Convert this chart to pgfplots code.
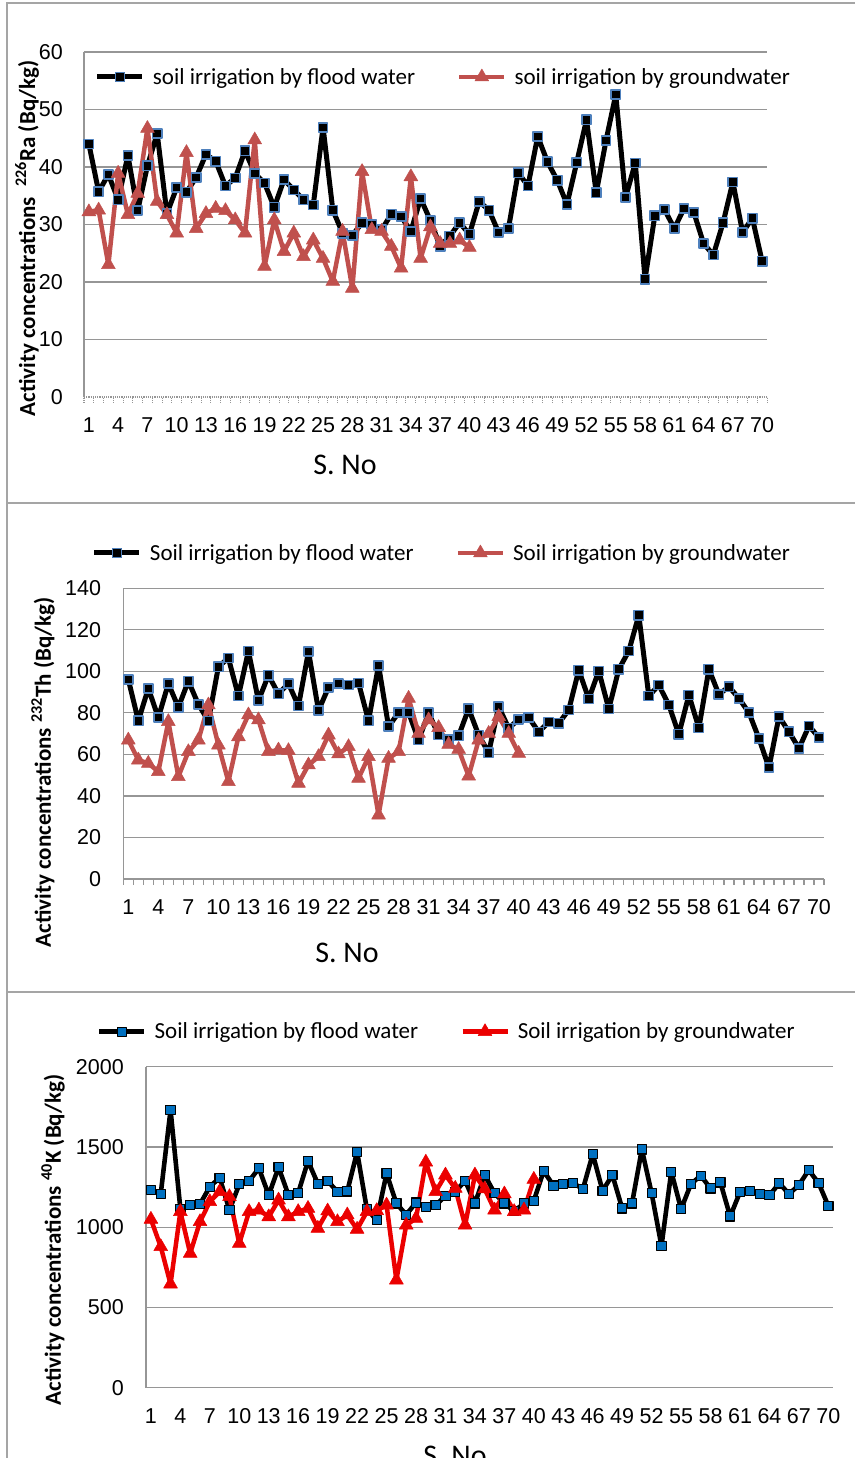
\documentclass[border=0pt]{standalone}
\usepackage{pgfplots}
\pgfplotsset{compat=1.18}
\usepackage{fontspec}
\setmainfont{Liberation Sans}
\newfontfamily\calibri{Carlito}
\definecolor{markblue}{RGB}{79,129,189}
\definecolor{redc}{RGB}{192,80,77}
\definecolor{blue3}{RGB}{0,112,192}
\definecolor{red3}{RGB}{235,0,0}
\definecolor{gridgray}{RGB}{150,150,150}
\definecolor{framegray}{RGB}{165,165,165}
\pgfplotsset{
  common/.style={
    scale only axis, xmin=0.5, xmax=70.5, ymin=0, clip=false,
    axis x line*=bottom, axis y line*=left,
    ymajorgrids, grid style={draw=gridgray, line width=1.2pt},
    axis line style={draw=gridgray, line width=1.2pt},
    ytick style={draw=none},
    tick label style={font=\fontsize{21.5}{25}\selectfont},
    /pgf/number format/assume math mode=true,
    /pgf/number format/1000 sep={},
    xticklabel style={anchor=base, inner sep=0pt, yshift=-36pt},
    tick align=outside,
    legend columns=2,
    legend cell align=left,
    legend style={draw=none, fill=none, inner sep=0pt, outer sep=0pt, anchor=west,
      font=\calibri\fontsize{23}{27}\selectfont, column sep=8pt,
      nodes={inner sep=0pt}},
    /tikz/every even column/.append style={column sep=42pt},
    legend image code/.code={\draw[mark repeat=2,mark phase=2,#1] plot coordinates {(0pt,0pt) (22.5pt,0pt) (45pt,0pt)};},
    extra x ticks={1,4,...,70},
    extra x tick labels={1,4,7,10,13,16,19,22,25,28,31,34,37,40,43,46,49,52,55,58,61,64,67,70},
    extra x tick style={major tick length=0pt, grid=none},
  },
  flood1/.style={draw=black, line width=5pt, line join=round, mark=square*, mark size=4.6pt,
    mark options={fill=black, draw=markblue, line width=1.6pt, solid}},
  ground1/.style={draw=redc, line width=4.5pt, line join=round, mark=triangle*, mark size=8pt,
    mark options={fill=redc, draw=redc, line width=0.5pt, solid}},
  flood3/.style={draw=black, line width=4.6pt, line join=round, mark=square*, mark size=4.6pt,
    mark options={fill=blue3, draw=black, line width=1.1pt, solid}},
  ground3/.style={draw=red3, line width=4.5pt, line join=round, mark=triangle*, mark size=8pt,
    mark options={fill=red3, draw=red3, line width=0.5pt, solid}},
}
\begin{document}
\begin{tikzpicture}
\path[use as bounding box] (0pt,0pt) rectangle (854pt,1458pt);
% frames
\draw[framegray, line width=1.5pt] (870pt,1455pt) -- (7pt,1455pt) -- (7pt,-10pt);
\draw[framegray, line width=1.5pt] (7pt,955pt) -- (870pt,955pt);
\draw[framegray, line width=2pt] (7pt,466pt) -- (870pt,466pt);

% ---------------- Panel 1: Ra-226
\begin{axis}[common, at={(84pt,1061pt)}, anchor=south west,
  width=683pt, height=345pt, ymax=60,
  ytick={10,20,...,60}, extra y ticks={0}, extra y tick style={grid=none},
  yticklabel style={anchor=east, inner sep=0pt, xshift=-15pt},
  xtick={0.5,1.5,...,70.5}, xticklabels={}, major tick length=6pt,
  xtick style={draw=gridgray, line width=1pt, densely dotted},
  x axis line style={densely dotted},
  legend style={at={(0.0161,0.9275)}},
]
\addplot[flood1] coordinates {
(1,44.0) (2,35.7) (3,38.7) (4,34.3) (5,42.0) (6,32.4) (7,40.2) (8,45.8) (9,31.9) (10,36.4)
(11,35.6) (12,38.2) (13,42.2) (14,41.0) (15,36.7) (16,38.1) (17,42.8) (18,38.9) (19,37.2) (20,33.0)
(21,37.8) (22,36.0) (23,34.3) (24,33.4) (25,46.9) (26,32.5) (27,28.5) (28,28.1) (29,30.3) (30,30.0)
(31,29.1) (32,31.8) (33,31.4) (34,28.8) (35,34.5) (36,30.7) (37,26.2) (38,28.0) (39,30.3) (40,28.3)
(41,34.0) (42,32.5) (43,28.6) (44,29.3) (45,39.0) (46,36.7) (47,45.3) (48,40.9) (49,37.7) (50,33.5)
(51,40.8) (52,48.2) (53,35.5) (54,44.6) (55,52.6) (56,34.7) (57,40.7) (58,20.5) (59,31.5) (60,32.6)
(61,29.3) (62,32.8) (63,32.1) (64,26.7) (65,24.7) (66,30.3) (67,37.4) (68,28.6) (69,31.1) (70,23.6)};
\addlegendentry{soil irrigation by flood water}
\addplot[ground1] coordinates {
(1,32.2) (2,32.5) (3,23.0) (4,38.9) (5,31.7) (6,35.4) (7,46.7) (8,34.0) (9,31.7) (10,28.5)
(11,42.5) (12,29.3) (13,31.9) (14,32.8) (15,32.4) (16,30.8) (17,28.5) (18,44.7) (19,22.7) (20,30.8)
(21,25.3) (22,28.5) (23,24.4) (24,27.3) (25,24.1) (26,20.1) (27,28.8) (28,18.9) (29,39.2) (30,29.1)
(31,28.8) (32,26.2) (33,22.4) (34,38.3) (35,24.1) (36,29.6) (37,26.7) (38,26.7) (39,27.3) (40,26.0)};
\addlegendentry{soil irrigation by groundwater}
\end{axis}

% ---------------- Panel 2: Th-232
\begin{axis}[common, at={(123.3pt,579pt)}, anchor=south west,
  width=700.7pt, height=290.7pt, ymax=140,
  ytick={0,20,...,140},
  yticklabel style={anchor=east, inner sep=0pt, xshift=-16pt},
  xtick={0.5,1.5,...,70.5}, xticklabels={}, major tick length=6pt,
  xtick style={draw=gridgray, line width=1.2pt},
  legend style={at={(-0.0447,1.1214)}},
]
\addplot[flood1] coordinates {
(1,96.1) (2,76.2) (3,91.8) (4,77.7) (5,94.1) (6,82.7) (7,95.3) (8,84.1) (9,76.1) (10,102.2)
(11,106.4) (12,88.1) (13,109.8) (14,85.9) (15,98.1) (16,89.2) (17,94.1) (18,83.3) (19,109.6) (20,81.1)
(21,92.3) (22,94.1) (23,93.4) (24,94.4) (25,76.2) (26,102.9) (27,73.4) (28,80.1) (29,80.2) (30,66.9)
(31,80.0) (32,69.3) (33,67.0) (34,69.0) (35,82.0) (36,69.3) (37,60.8) (38,83.0) (39,72.6) (40,76.9)
(41,77.8) (42,70.8) (43,75.6) (44,75.0) (45,81.4) (46,100.6) (47,86.7) (48,100.2) (49,81.9) (50,101.0)
(51,109.8) (52,127.0) (53,88.1) (54,93.4) (55,83.8) (56,69.7) (57,88.6) (58,72.7) (59,101.0) (60,88.9)
(61,92.6) (62,87.0) (63,80.1) (64,67.7) (65,53.6) (66,78.2) (67,70.9) (68,62.9) (69,73.7) (70,68.1)};
\addlegendentry{Soil irrigation by flood water}
\addplot[ground1] coordinates {
(1,66.9) (2,57.3) (3,55.7) (4,51.7) (5,75.8) (6,49.3) (7,61.3) (8,66.9) (9,83.8) (10,64.5)
(11,46.9) (12,68.5) (13,79.0) (14,76.6) (15,61.3) (16,62.1) (17,61.8) (18,46.1) (19,54.9) (20,58.9)
(21,69.3) (22,60.2) (23,63.7) (24,48.5) (25,58.9) (26,30.8) (27,58.1) (28,61.3) (29,87.0) (30,70.1)
(31,76.6) (32,72.9) (33,64.8) (34,62.4) (35,49.6) (36,66.9) (37,70.1) (38,78.2) (39,70.1) (40,60.5)};
\addlegendentry{Soil irrigation by groundwater}
\end{axis}

% ---------------- Panel 3: K-40
\begin{axis}[common, at={(146pt,70.3pt)}, anchor=south west,
  width=687.3pt, height=321pt, ymax=2000,
  ytick={0,500,...,2000},
  yticklabel style={anchor=east, inner sep=0pt, xshift=-22pt},
  xtick={1,4,...,70}, xticklabels={}, major tick length=0pt,
  xtick style={draw=none},
  legend style={at={(-0.0713,1.109)}},
]
\addplot[flood3] coordinates {
(1,1231) (2,1207) (3,1730) (4,1115) (5,1138) (6,1144) (7,1252) (8,1308) (9,1107) (10,1267)
(11,1288) (12,1367) (13,1200) (14,1373) (15,1202) (16,1213) (17,1412) (18,1271) (19,1288) (20,1221)
(21,1223) (22,1470) (23,1110) (24,1045) (25,1335) (26,1148) (27,1078) (28,1153) (29,1128) (30,1138)
(31,1194) (32,1220) (33,1290) (34,1148) (35,1325) (36,1211) (37,1148) (38,1100) (39,1148) (40,1165)
(41,1350) (42,1259) (43,1267) (44,1275) (45,1238) (46,1456) (47,1227) (48,1325) (49,1117) (50,1148)
(51,1485) (52,1211) (53,883) (54,1346) (55,1113) (56,1269) (57,1321) (58,1242) (59,1279) (60,1067)
(61,1219) (62,1227) (63,1207) (64,1200) (65,1273) (66,1207) (67,1263) (68,1356) (69,1275) (70,1132)};
\addlegendentry{Soil irrigation by flood water}
\addplot[ground3] coordinates {
(1,1049) (2,879) (3,646) (4,1097) (5,837) (6,1034) (7,1159) (8,1221) (9,1190) (10,899)
(11,1097) (12,1107) (13,1065) (14,1169) (15,1065) (16,1097) (17,1117) (18,993) (19,1101) (20,1034)
(21,1076) (22,987) (23,1097) (24,1103) (25,1138) (26,671) (27,1013) (28,1055) (29,1405) (30,1221)
(31,1325) (32,1242) (33,1013) (34,1325) (35,1238) (36,1107) (37,1207) (38,1097) (39,1107) (40,1298)};
\addlegendentry{Soil irrigation by groundwater}
\end{axis}

% axis titles
\node[font=\calibri\bfseries\fontsize{23}{27}\selectfont, rotate=90] at (27pt,1219.5pt)
  {Activity concentrations\ \ \textsuperscript{226}Ra (Bq/kg)};
\node[font=\calibri\bfseries\fontsize{23}{27}\selectfont, rotate=90] at (43pt,685.5pt)
  {Activity concentrations \textsuperscript{232}Th (Bq/kg)};
\node[font=\calibri\bfseries\fontsize{23}{27}\selectfont, rotate=90] at (53pt,218pt)
  {Activity concentrations \textsuperscript{40}K (Bq/kg)};
\node[font=\calibri\fontsize{30}{34}\selectfont, anchor=base] at (345pt,983pt) {S. No};
\node[font=\calibri\fontsize{30}{34}\selectfont, anchor=base] at (347pt,495pt) {S. No};
\node[font=\calibri\fontsize{30}{34}\selectfont, anchor=base] at (455pt,-7pt) {S. No};
\end{tikzpicture}
\end{document}
